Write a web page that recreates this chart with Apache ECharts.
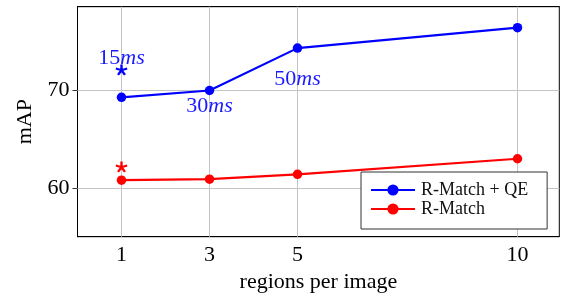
<!DOCTYPE html>
<html>
<head>
<meta charset="utf-8">
<script src="https://cdn.jsdelivr.net/npm/echarts@6.0.0/dist/echarts.min.js"></script>
<style>
  html, body { margin: 0; padding: 0; background: #fff; }
  #chart { width: 561px; height: 300px; }
</style>
</head>
<body>
<div id="chart"></div>
<script>
// regions per image
const regions = [1, 3, 5, 10];
// mAP, with and without query expansion
const mapQE = [69.3, 70.0, 74.35, 76.45];
const mapBase = [60.8, 60.9, 61.4, 63.0];
// single reference runs drawn as stars
const starRegions = [1];
const starQE = [72.1];
const starBase = [62.15];
// timing notes (ms): one for the star, then for the QE points
const starTime = ['15'];
const qeTimes = ['', '30', '50', ''];

const xTicks = [1, 3, 5, 10];
const yTicks = [60, 70];

const FONT = '"Liberation Serif", "DejaVu Serif", serif';
const BLUE = '#0000ff';
const RED = '#ff0000';
const NOTE = '#1a1aff';

// 5-arm asterisk like the pgfplots "star" mark
function asterisk() {
  const c = 50, r = 50, w = 10;
  let d = '';
  for (let i = 0; i < 5; i++) {
    const a = (-90 + i * 72) * Math.PI / 180;
    const dx = Math.cos(a), dy = Math.sin(a);
    const px = -dy * w, py = dx * w;
    const pts = [
      [c + px, c + py], [c + px + dx * r, c + py + dy * r],
      [c - px + dx * r, c - py + dy * r], [c - px, c - py]
    ];
    d += 'M' + pts.map(p => p[0].toFixed(2) + ' ' + p[1].toFixed(2)).join('L') + 'Z';
  }
  return 'path://' + d;
}
const STAR = asterisk();

const note = {
  show: true,
  position: 'inside',
  textBorderWidth: 0,
  formatter: p => p.data.t ? '{n|' + p.data.t + '}{i|ms}' : '',
  rich: {
    n: { fontFamily: FONT, fontSize: 22, color: NOTE, textBorderWidth: 0 },
    i: { fontFamily: FONT, fontSize: 22, fontStyle: 'italic', color: NOTE, textBorderWidth: 0 }
  }
};
const offsets = [[0, 0], [0, 16], [0, 31], [0, 0]];

const chart = echarts.init(document.getElementById('chart'));

const tickStyle = { inside: true, length: 5, lineStyle: { color: '#333', width: 1 } };

chart.setOption({
  animation: false,
  backgroundColor: '#fff',
  grid: { left: 77.5, right: 1.7, top: 6.7, bottom: 63.3, show: true, borderColor: '#000', borderWidth: 1 },
  legend: {
    orient: 'vertical',
    left: 361, top: 172, z: 20,
    data: ['R-Match + QE', 'R-Match'],
    itemWidth: 44, itemHeight: 14, itemGap: 1,
    padding: [9, 19, 11, 9],
    borderColor: '#333', borderWidth: 1, borderRadius: 0,
    backgroundColor: '#fff',
    textStyle: { fontFamily: FONT, fontSize: 18, lineHeight: 18, color: '#111', padding: [0, 0, 0, 1] }
  },
  xAxis: [{
    type: 'value', min: 0, max: 10.95, position: 'bottom',
    axisLine: { show: true, lineStyle: { color: '#000' } },
    axisTick: Object.assign({ customValues: xTicks }, tickStyle),
    axisLabel: { customValues: xTicks, fontFamily: FONT, fontSize: 22, color: '#000', margin: 8 },
    splitLine: { show: false },
    name: 'regions per image', nameLocation: 'middle', nameGap: 35,
    nameTextStyle: { fontFamily: FONT, fontSize: 22, color: '#000' }
  }, {
    type: 'value', min: 0, max: 10.95, position: 'top',
    axisLine: { show: true, lineStyle: { color: '#000' } },
    axisTick: Object.assign({ customValues: xTicks }, tickStyle),
    axisLabel: { show: false }, splitLine: { show: false }
  }],
  yAxis: [{
    type: 'value', min: 55, max: 78.6, position: 'left',
    axisLine: { show: true, lineStyle: { color: '#000' } },
    axisTick: Object.assign({ customValues: yTicks }, tickStyle),
    axisLabel: { customValues: yTicks, fontFamily: FONT, fontSize: 22, color: '#000', margin: 8 },
    splitLine: { show: false },
    name: 'mAP', nameLocation: 'middle', nameGap: 41, nameRotate: 90,
    nameTextStyle: { fontFamily: FONT, fontSize: 22, color: '#000' }
  }, {
    type: 'value', min: 55, max: 78.6, position: 'right',
    axisLine: { show: true, lineStyle: { color: '#000' } },
    axisTick: Object.assign({ customValues: yTicks }, tickStyle),
    axisLabel: { show: false }, splitLine: { show: false }
  }],
  series: [
    {
      // grid lines
      type: 'line', data: [], z: 1, silent: true,
      markLine: {
        silent: true, symbol: 'none', label: { show: false }, z: 1,
        lineStyle: { color: '#c4c4c4', width: 1, type: 'solid' },
        data: xTicks.map(v => ({ xAxis: v })).concat(yTicks.map(v => ({ yAxis: v })))
      }
    },
    {
      name: 'R-Match + QE', type: 'line', z: 3,
      data: regions.map((x, i) => ({ value: [x, mapQE[i]], t: qeTimes[i], label: Object.assign({}, note, { offset: offsets[i] }) })),
      symbol: 'circle', symbolSize: 9.5,
      lineStyle: { color: BLUE, width: 2.2 }, itemStyle: { color: BLUE }
    },
    {
      name: 'R-Match', type: 'line', z: 3,
      data: regions.map((x, i) => [x, mapBase[i]]),
      symbol: 'circle', symbolSize: 9.5,
      lineStyle: { color: RED, width: 2.2 }, itemStyle: { color: RED }
    },
    {
      type: 'scatter', z: 3,
      data: starRegions.map((x, i) => ({ value: [x, starQE[i]], t: starTime[i], label: Object.assign({}, note, { offset: [0, -12] }) })),
      symbol: STAR, symbolSize: [12, 11], symbolKeepAspect: false,
      itemStyle: { color: BLUE, opacity: 1 }
    },
    {
      type: 'scatter', z: 3,
      data: starRegions.map((x, i) => [x, starBase[i]]),
      symbol: STAR, symbolSize: [12, 11], symbolKeepAspect: false,
      itemStyle: { color: RED, opacity: 1 }
    }
  ]
});
</script>
</body>
</html>
